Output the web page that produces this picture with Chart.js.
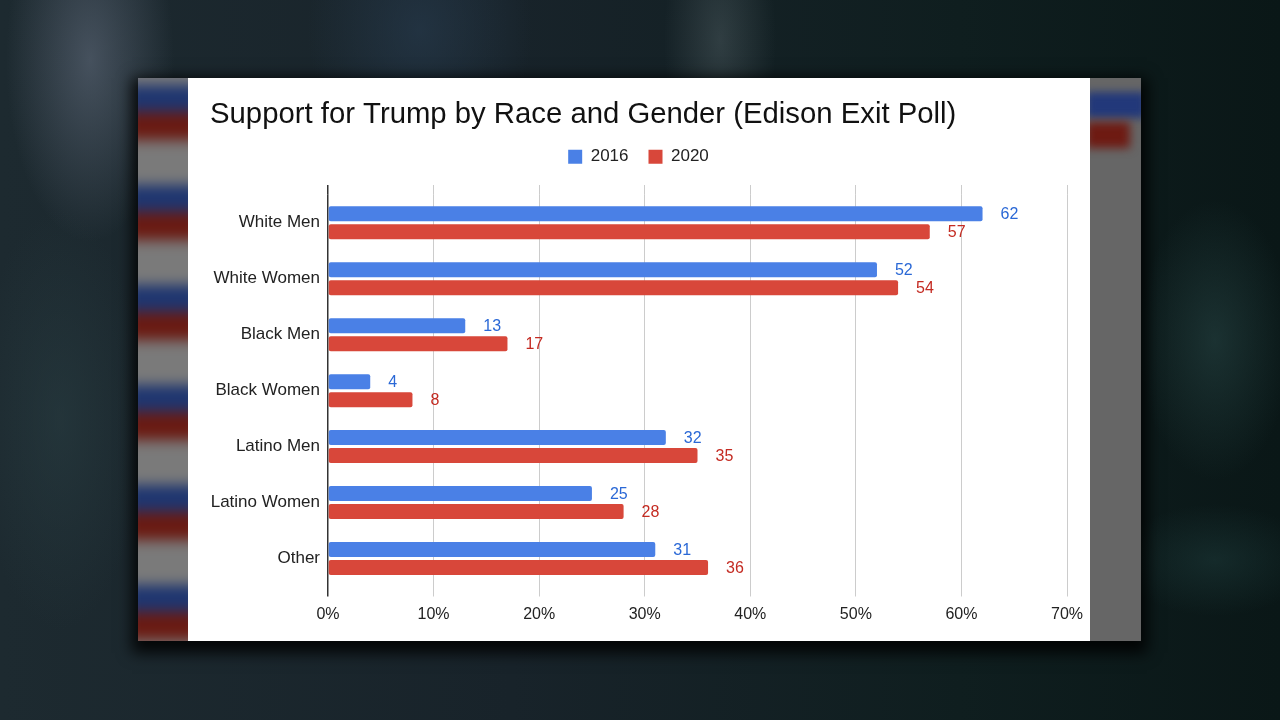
<!DOCTYPE html>
<html>
<head>
<meta charset="utf-8">
<script src="https://cdn.jsdelivr.net/npm/chart.js@4/dist/chart.umd.min.js"></script>
<style>
html,body{margin:0;padding:0;}
body{width:1280px;height:720px;overflow:hidden;position:relative;
 background:
  radial-gradient(ellipse 120px 260px at 90px 60px, rgba(120,130,150,0.45), transparent 70%),
  radial-gradient(ellipse 160px 200px at 420px 30px, rgba(40,60,80,0.6), transparent 70%),
  radial-gradient(ellipse 80px 200px at 720px 40px, rgba(100,115,120,0.35), transparent 70%),
  radial-gradient(ellipse 110px 200px at 1215px 340px, rgba(40,70,70,0.55), transparent 70%),
  radial-gradient(ellipse 140px 80px at 1215px 560px, rgba(30,60,60,0.5), transparent 70%),
  radial-gradient(ellipse 120px 300px at 60px 420px, rgba(40,60,65,0.6), transparent 70%),
  linear-gradient(90deg,#1d2a30 0%,#18232a 40%,#0f1e1f 75%,#0a1717 100%);}
#shadow{position:absolute;left:138px;top:78px;width:1003px;height:563px;box-shadow:0 6px 14px 6px rgba(0,0,0,0.85);background:#000;}
#lstrip{position:absolute;left:138px;top:78px;width:50px;height:563px;overflow:hidden;background:#777;}
#lstrip div{position:absolute;left:-10px;top:-10px;width:70px;height:600px;filter:blur(6px);
 background:repeating-linear-gradient(180deg,#7a7a7a 0px,#7a7a7a 12px,#1f3670 22px,#1f3670 38px,#6a1a12 50px,#6a1a12 66px,#7a7a7a 78px,#7a7a7a 100px);}
#rstrip{position:absolute;left:1090px;top:78px;width:51px;height:563px;overflow:hidden;background:#666;}
#rstrip .b{position:absolute;left:-4px;top:14px;width:60px;height:26px;background:#22387a;filter:blur(4px);}
#rstrip .r{position:absolute;left:-4px;top:44px;width:44px;height:26px;background:#6e1a12;filter:blur(5px);}
#card{position:absolute;left:188px;top:78px;width:902px;height:563px;background:#fff;}
#c{position:absolute;left:0;top:0;}
</style>
</head>
<body>
<div id="shadow"></div>
<div id="lstrip"><div></div></div>
<div id="rstrip"><div class="b"></div><div class="r"></div></div>
<div id="card"></div>
<canvas id="c" width="1280" height="720"></canvas>
<script>
const categories = ['White Men','White Women','Black Men','Black Women','Latino Men','Latino Women','Other'];
const seriesNames = ['2016','2020'];
const values2016 = [62,52,13,4,32,25,31];
const values2020 = [57,54,17,8,35,28,36];
const xTickLabels = ['0%','10%','20%','30%','40%','50%','60%','70%'];
const chartTitle = 'Support for Trump by Race and Gender (Edison Exit Poll)';

const barColors = ['#4a80e6','#d8473a'];
const labelColors = ['#2a68d6','#c42b22'];
const FONT = "'Liberation Sans', Arial, sans-serif";

const gridTop = 185;

function alignPx(p, w){ const h = w/2; return Math.round(p - h) + h; }

const gridExtend = {
  id:'gridExtend',
  beforeDatasetsDraw(chart){
    const x = chart.scales.x, ctx = chart.ctx;
    ctx.save();
    x.ticks.forEach((t,i)=>{
      const w = i===0 ? 1.5 : 1;
      const px = alignPx(x.getPixelForValue(t.value), w);
      ctx.beginPath();
      ctx.strokeStyle = i===0 ? '#333333' : '#cccccc';
      ctx.lineWidth = w;
      ctx.moveTo(px, gridTop);
      ctx.lineTo(px, chart.chartArea.top);
      ctx.stroke();
    });
    ctx.restore();
  }
};

const valueLabels = {
  id:'valueLabels',
  afterDatasetsDraw(chart){
    const ctx = chart.ctx;
    ctx.save();
    ctx.font = '16px ' + FONT;
    ctx.textBaseline = 'middle';
    ctx.textAlign = 'left';
    chart.data.datasets.forEach((ds,di)=>{
      const meta = chart.getDatasetMeta(di);
      ctx.fillStyle = labelColors[di];
      meta.data.forEach((bar,i)=>{
        ctx.fillText(String(ds.data[i]), bar.x + 18, bar.y + 1);
      });
    });
    ctx.restore();
  }
};

const legendHeight = {
  id:'legendHeight',
  beforeInit(chart){
    const fit = chart.legend.fit;
    chart.legend.fit = function(){ fit.call(this); this.height = 66.5; };
  }
};

new Chart(document.getElementById('c'), {
  type:'bar',
  data:{
    labels: categories,
    datasets:[
      {label: seriesNames[0], data: values2016, backgroundColor: barColors[0], borderRadius: 2, borderSkipped: false},
      {label: seriesNames[1], data: values2020, backgroundColor: barColors[1], borderRadius: 2, borderSkipped: false}
    ]
  },
  options:{
    indexAxis:'y',
    responsive:false,
    animation:false,
    devicePixelRatio:1,
    categoryPercentage:0.643,
    barPercentage:0.833,
    layout:{padding:{left:210,right:213,top:80,bottom:93.5}},
    plugins:{
      title:{display:true,text:chartTitle,align:'start',color:'#111111',
        font:{family:FONT,size:29.3,weight:'normal',lineHeight:1.0},padding:{top:20.5,bottom:-1.5}},
      legend:{display:true,position:'top',align:'center',
        labels:{boxWidth:14,boxHeight:14,padding:20,color:'#222222',font:{family:FONT,size:17}}},
      tooltip:{enabled:false}
    },
    scales:{
      x:{
        min:0,max:70,
        ticks:{stepSize:10,color:'#222222',padding:8,font:{family:FONT,size:16},
          callback:(v,i)=>xTickLabels[i]},
        grid:{color:(c)=>c.index===0?'#333333':'#cccccc',lineWidth:(c)=>c.index===0?1.5:1,tickLength:10,drawTicks:true},
        border:{display:false},
        afterFit(s){ s.height = 40; }
      },
      y:{
        ticks:{color:'#222222',padding:8,font:{family:FONT,size:17}},
        grid:{display:false,drawTicks:false},
        border:{display:false},
        afterFit(s){ s.width = 118; }
      }
    }
  },
  plugins:[gridExtend, valueLabels, legendHeight]
});
</script>
</body>
</html>
